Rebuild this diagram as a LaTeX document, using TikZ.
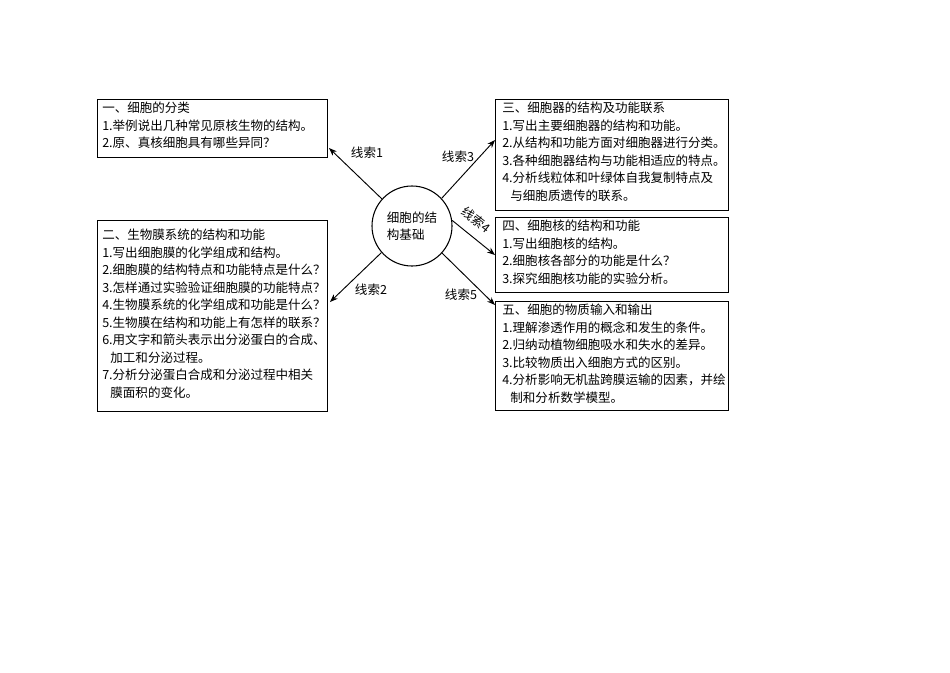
\documentclass[tikz,border=0pt]{standalone}
\usepackage{fontspec}
\setmainfont{Liberation Serif}
\newfontfamily\cjk{Noto Sans CJK SC}
\usetikzlibrary{arrows.meta}
\begin{document}
\begin{tikzpicture}[x=0.75pt,y=-0.75pt,
  box/.style={draw,line width=0.8pt,anchor=north west,inner sep=0pt},
  txt/.style={anchor=north west,align=left,inner sep=0pt,font=\cjk\fontsize{9.4}{13.1}\selectfont},
  arr/.style={-{Stealth[length=6pt,width=4.5pt]},line width=0.7pt},
  lab/.style={font=\cjk\fontsize{9.4}{11}\selectfont,inner sep=1pt}]
\useasboundingbox (0,0) rectangle (950,672);
\node[box,minimum width=172.5pt,minimum height=43.5pt] (b1) at (97,99) {};
\node[box,minimum width=172.5pt,minimum height=143pt] (b2) at (97,220) {};
\node[box,minimum width=174.75pt,minimum height=83pt] (b3) at (495,99) {};
\node[box,minimum width=174.75pt,minimum height=56pt] (b4) at (495,217) {};
\node[box,minimum width=174.75pt,minimum height=81.75pt] (b5) at (495,301) {};
\node[txt] (t1) at (102,102) {一、细胞的分类\\1.举例说出几种常见原核生物的结构。\\2.原、真核细胞具有哪些异同？};
\node[txt] (t2) at (102,229) {二、生物膜系统的结构和功能\\1.写出细胞膜的化学组成和结构。\\2.细胞膜的结构特点和功能特点是什么？\\3.怎样通过实验验证细胞膜的功能特点？\\4.生物膜系统的化学组成和功能是什么？\\5.生物膜在结构和功能上有怎样的联系？\\6.用文字和箭头表示出分泌蛋白的合成、\\\hspace*{0.65em}加工和分泌过程。\\7.分析分泌蛋白合成和分泌过程中相关\\\hspace*{0.65em}膜面积的变化。};
\node[txt] (t3) at (502,102) {三、细胞器的结构及功能联系\\1.写出主要细胞器的结构和功能。\\2.从结构和功能方面对细胞器进行分类。\\3.各种细胞器结构与功能相适应的特点。\\4.分析线粒体和叶绿体自我复制特点及\\\hspace*{0.65em}与细胞质遗传的联系。};
\node[txt] (t4) at (502,220) {四、细胞核的结构和功能\\1.写出细胞核的结构。\\2.细胞核各部分的功能是什么？\\3.探究细胞核功能的实验分析。};
\node[txt] (t5) at (502,304) {五、细胞的物质输入和输出\\1.理解渗透作用的概念和发生的条件。\\2.归纳动植物细胞吸水和失水的差异。\\3.比较物质出入细胞方式的区别。\\4.分析影响无机盐跨膜运输的因素，并绘\\\hspace*{0.65em}制和分析数学模型。};
\node[draw,circle,line width=0.8pt,minimum size=60pt,inner sep=0pt,align=left,font=\cjk\fontsize{9.4}{13}\selectfont] (c) at (412,226) {细胞的结\\构基础};
\coordinate (e1) at (329,148);
\coordinate (e2) at (330,302);
\coordinate (e3) at (495,140);
\coordinate (e4) at (495,255);
\coordinate (e5) at (495,305);
\draw[arr] (c.138) -- (e1);
\draw[arr] (c.221) -- (e2);
\draw[arr] (c.43) -- (e3);
\draw[arr] (c.8) -- (e4);
\draw[arr] (c.318) -- (e5);
\node[lab] (l1) at (367,153) {线索1};
\node[lab] (l2) at (371,290) {线索2};
\node[lab] (l3) at (458,157) {线索3};
\node[lab,rotate=-38] (l4) at (476,220) {线索4};
\node[lab] (l5) at (461,295) {线索5};
\end{tikzpicture}
\end{document}
